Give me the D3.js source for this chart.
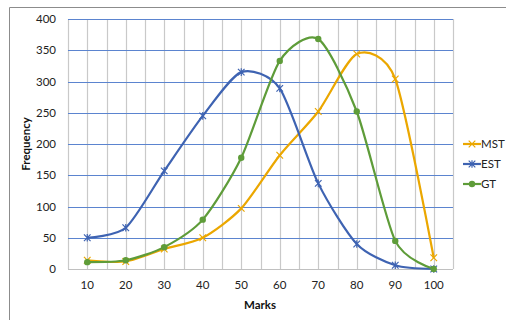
<!DOCTYPE html>
<html><head><meta charset="utf-8">
<script src="https://cdn.jsdelivr.net/npm/d3@7"></script>
<style>body{margin:0;background:#fff}svg{display:block;font-family:Lato,"Open Sans",sans-serif}</style>
</head><body><svg id="c" width="506" height="320"></svg>
<script>
const categories = [10,20,30,40,50,60,70,80,90,100];
const mst = [14,12,32,50,97,182,252,344,304,18];
const est = [50,66,157,245,315,289,137,40,6,0];
const gt  = [11,14,35,79,178,333,368,252,45,0];
const yTicks = [0,50,100,150,200,250,300,350,400];
const seriesNames = ["MST","EST","GT"];

const series = [
  {name:"MST", values:mst, color:"#EBA700", marker:"x"},
  {name:"EST", values:est, color:"#3E63B2", marker:"star"},
  {name:"GT",  values:gt,  color:"#5E9C39", marker:"dot"}
];

const svg = d3.select("#c");
const L=68, R=453, T=19, B=269;
svg.append("path").attr("d","M9.5,330 V7.5 H520").attr("fill","none").attr("stroke","#8c8c8c").attr("stroke-width",1);

const x = d3.scaleBand().domain(categories).range([L,R]);
const y = d3.scaleLinear().domain([0,400]).range([B,T]);
const cx = d => x(d)+x.bandwidth()/2;

const g = svg.append("g");
const vlines = [];
categories.forEach(c=>{vlines.push(x(c)); vlines.push(cx(c));});
vlines.push(R);
g.selectAll(".v").data(vlines).enter().append("line")
  .attr("x1",d=>Math.round(d)+0.5).attr("x2",d=>Math.round(d)+0.5)
  .attr("y1",T).attr("y2",B).attr("stroke","#c9c9c9").attr("stroke-width",1.2);
g.selectAll(".h").data(yTicks.filter(t=>t>0)).enter().append("line")
  .attr("x1",L).attr("x2",R).attr("y1",d=>Math.round(y(d))+0.5).attr("y2",d=>Math.round(y(d))+0.5)
  .attr("stroke","#5B84CF").attr("stroke-width",1.2);
g.append("line").attr("x1",L).attr("x2",R).attr("y1",B+0.5).attr("y2",B+0.5).attr("stroke","#c0c0c0").attr("stroke-width",1.2);

const ya = d3.axisLeft(y).tickValues(yTicks).tickSize(0).tickPadding(12);
svg.append("g").attr("transform",`translate(${L},0)`).call(ya)
  .call(s=>s.select(".domain").remove())
  .selectAll("text").attr("font-size",11.5).attr("fill","#222").style("font-family","Lato,'Open Sans',sans-serif");
const xa = d3.axisBottom(x).tickSize(0).tickPadding(12);
svg.append("g").attr("transform",`translate(0,${B})`).call(xa)
  .call(s=>s.select(".domain").remove())
  .selectAll("text").attr("font-size",11.5).attr("fill","#222").style("font-family","Lato,'Open Sans',sans-serif");

svg.append("text").attr("x",260).attr("y",309).attr("text-anchor","middle")
  .attr("font-size",11.5).attr("font-weight","bold").attr("fill","#111").text("Marks");
svg.append("text").attr("transform","translate(30,144) rotate(-90)").attr("text-anchor","middle")
  .attr("font-size",11.5).attr("font-weight","bold").attr("fill","#111").text("Frequency");

const line = d3.line().x((d,i)=>cx(categories[i])).y(d=>y(d)).curve(d3.curveCardinal.tension(0.25));

function marker(sel, type, color, px, py, s){
  if(type==="dot"){
    sel.append("circle").attr("cx",px).attr("cy",py).attr("r",3.2).attr("fill",color);
  } else {
    const p = `M${px-s},${py-s}L${px+s},${py+s}M${px-s},${py+s}L${px+s},${py-s}` + (type==="star"?`M${px},${py-s-0.5}V${py+s+0.5}`:"");
    sel.append("path").attr("d",p).attr("stroke",color).attr("stroke-width",1.2).attr("fill","none");
  }
}

series.forEach(s=>{
  svg.append("path").datum(s.values).attr("d",line).attr("fill","none")
    .attr("stroke",s.color).attr("stroke-width",2.2);
  const mg = svg.append("g");
  s.values.forEach((v,i)=>marker(mg,s.marker,s.color,cx(categories[i]),y(v),3.3));
});

const lg = svg.append("g");
series.forEach((s,i)=>{
  const ly = 144 + i*20;
  lg.append("line").attr("x1",463).attr("x2",481).attr("y1",ly).attr("y2",ly).attr("stroke",s.color).attr("stroke-width",2.2);
  marker(lg,s.marker,s.color,472,ly,3.3);
  lg.append("text").attr("x",481).attr("y",ly+4).attr("font-size",11.5).attr("fill","#222").text(seriesNames[i]);
});
</script></body></html>
